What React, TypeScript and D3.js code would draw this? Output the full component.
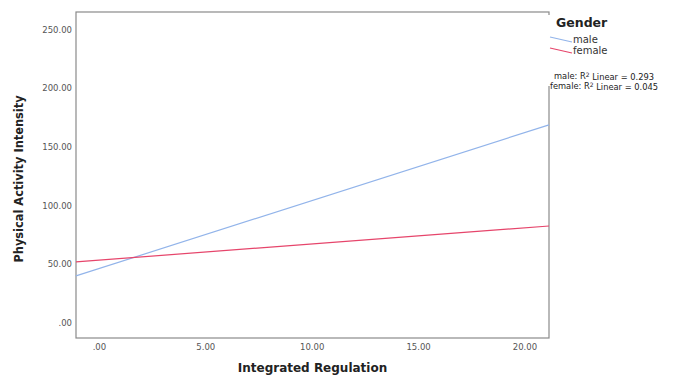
import React, { useEffect, useRef } from 'react';
import * as d3 from 'd3';

// fit-line endpoints (x at plot edges)
const xEnds = [-1.1, 21.13];
const maleValues = [40, 169];
const femaleValues = [52, 82.6];
const xTicks = [0, 5, 10, 15, 20];
const yTicks = [0, 50, 100, 150, 200, 250];
const seriesNames = ['male', 'female'];
const seriesColors = ['#92b4ea', '#e6456b'];
const r2Values = ['0.293', '0.045'];

function App() {
  const ref = useRef<SVGSVGElement>(null);

  useEffect(() => {
    const svg = d3.select(ref.current);
    svg.selectAll('*').remove();

    const left = 76, right = 549, top = 12, bottom = 338;
    const x = d3.scaleLinear().domain(xEnds).range([left, right]);
    const y = d3.scaleLinear().domain([-13, 265.3]).range([bottom, top]);
    const font = 'DejaVu Sans, sans-serif';

    svg.append('rect')
      .attr('x', left).attr('y', top)
      .attr('width', right - left).attr('height', bottom - top)
      .attr('fill', 'white').attr('stroke', '#8a8a8a').attr('stroke-width', 1.2);

    const line = d3.line<number>()
      .x((_, i) => x(xEnds[i]))
      .y((d) => y(d));

    [maleValues, femaleValues].forEach((vals, i) => {
      svg.append('path')
        .attr('d', line(vals))
        .attr('fill', 'none')
        .attr('stroke', seriesColors[i])
        .attr('stroke-width', 1.2);
    });

    svg.selectAll('.ytick').data(yTicks).enter().append('text')
      .attr('x', 72).attr('y', (d) => y(d)).attr('dy', '0.35em')
      .attr('text-anchor', 'end')
      .attr('font-family', font).attr('font-size', 8.5)
      .attr('fill', '#555')
      .text((d) => (d === 0 ? '.00' : d.toFixed(2)));

    svg.selectAll('.xtick').data(xTicks).enter().append('text')
      .attr('x', (d) => x(d)).attr('y', 347).attr('dy', '0.35em')
      .attr('text-anchor', 'middle')
      .attr('font-family', font).attr('font-size', 8.5)
      .attr('fill', '#555')
      .text((d) => (d === 0 ? '.00' : d.toFixed(2)));

    svg.append('text')
      .attr('transform', 'translate(19,179) rotate(-90)')
      .attr('dy', '0.35em').attr('text-anchor', 'middle')
      .attr('font-family', font).attr('font-size', 11.4).attr('font-weight', 'bold')
      .attr('fill', '#222')
      .text('Physical Activity Intensity');

    svg.append('text')
      .attr('x', (left + right) / 2).attr('y', 368).attr('dy', '0.35em')
      .attr('text-anchor', 'middle')
      .attr('font-family', font).attr('font-size', 12).attr('font-weight', 'bold')
      .attr('fill', '#222')
      .text('Integrated Regulation');

    // legend panel covers the frame's right edge
    const lg = svg.append('g');
    lg.append('rect').attr('x', 548).attr('y', 15).attr('width', 130).attr('height', 71).attr('fill', 'white');
    lg.append('text')
      .attr('x', 556).attr('y', 23).attr('dy', '0.35em')
      .attr('font-family', font).attr('font-size', 12.5).attr('font-weight', 'bold')
      .attr('fill', '#222').text('Gender');

    seriesNames.forEach((name, i) => {
      const yy = 37 + i * 11;
      lg.append('line')
        .attr('x1', 550).attr('y1', yy).attr('x2', 572).attr('y2', yy + 5)
        .attr('stroke', seriesColors[i]).attr('stroke-width', 1.2);
      lg.append('text')
        .attr('x', 573).attr('y', yy + 2.5).attr('dy', '0.35em')
        .attr('font-family', font).attr('font-size', 10)
        .attr('fill', '#333').text(name);
    });

    seriesNames.forEach((name, i) => {
      const t = lg.append('text')
        .attr('x', 604).attr('y', 76 + i * 10).attr('dy', '0.35em')
        .attr('text-anchor', 'middle')
        .attr('font-family', font).attr('font-size', 8.3)
        .attr('fill', '#222');
      t.append('tspan').text(`${name}: R`);
      t.append('tspan').attr('dy', '-0.35em').attr('font-size', 6).text('2');
      t.append('tspan').attr('dy', '0.35em').text(` Linear = ${r2Values[i]}`);
    });
  }, []);

  return (
    <svg ref={ref} width={678} height={375}
      style={{ position: 'absolute', left: 0, top: 0, background: 'white' }} />
  );
}

export default App;
